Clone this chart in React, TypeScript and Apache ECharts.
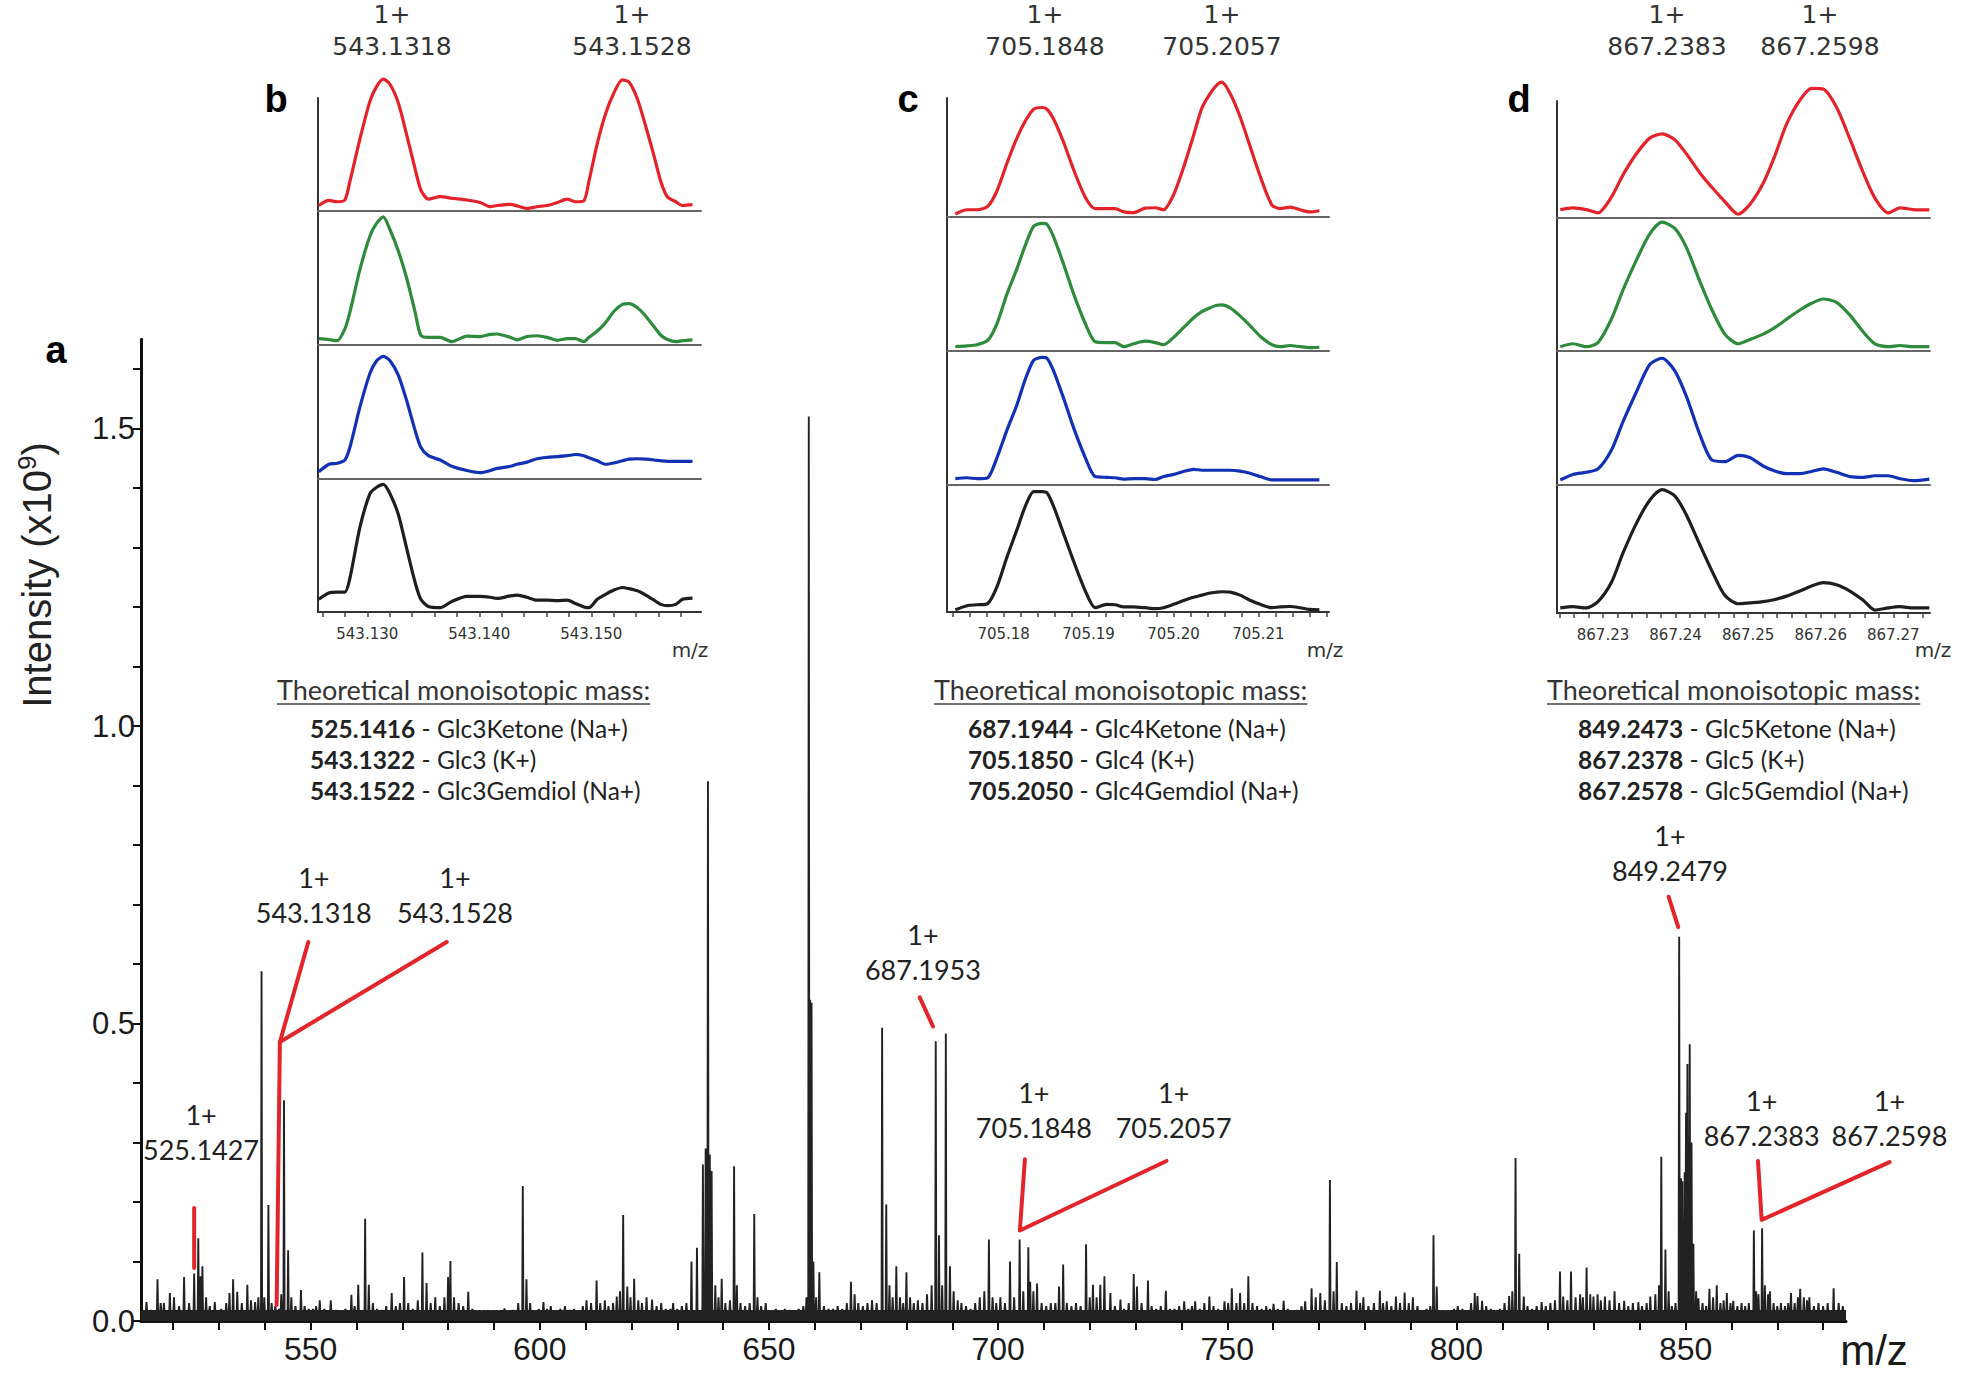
import React, { useEffect, useRef } from "react";
import * as echarts from "echarts";

// ---------------- main spectrum (m/z, intensity x10^9) ----------------
const peaks513to600: number[][] = [
  [514.2,0.032],[515.2,0.018],[516.6,0.070],[517.3,0.030],[518.0,0.030],[519.3,0.047],[520.2,0.040],[521.3,0.025],
  [522.4,0.074],[523.5,0.030],[524.6,0.080],[525.5,0.139],[526.0,0.075],[526.4,0.092],[527.2,0.040],[528.0,0.025],
  [529.1,0.032],[530.5,0.020],[531.6,0.030],[532.3,0.047],[533.1,0.070],[534.0,0.049],[535.0,0.030],[536.2,0.061],
  [537.0,0.035],[537.9,0.032],[538.6,0.040],[539.3,0.588],[539.9,0.040],[540.8,0.195],[541.5,0.030],[542.3,0.025],
  [543.1,0.020],[543.6,0.045],[544.2,0.371],[545.1,0.119],[545.8,0.040],[546.7,0.025],[547.9,0.052],[548.7,0.025],
  [549.6,0.020],[550.5,0.020],[551.2,0.025],[552.0,0.035],[553.0,0.020],[554.4,0.035],[555.5,0.018],[556.6,0.015],
  [557.6,0.020],[558.9,0.044],[559.6,0.025],[560.4,0.061],[561.9,0.172],[562.7,0.061],[563.6,0.030],[564.5,0.020],
  [565.5,0.018],[566.5,0.025],[567.7,0.047],[568.6,0.025],[569.5,0.030],[570.4,0.074],[571.3,0.030],[572.3,0.020],
  [573.4,0.035],[574.4,0.115],[575.3,0.064],[576.2,0.030],[577.2,0.040],[578.2,0.025],[579.2,0.040],[580.0,0.074],
  [580.5,0.101],[581.3,0.040],[582.3,0.030],[583.3,0.025],[584.4,0.049],[585.3,0.020],[586.3,0.012],[587.3,0.010],
  [588.3,0.015],[589.3,0.012],[590.0,0.016],[591.0,0.012],[592.3,0.021],[593.2,0.015],[594.2,0.018],[595.3,0.030],
  [596.3,0.227],[597.1,0.070],[597.9,0.030],[598.8,0.015],[599.8,0.020]
];
const peaks600to700: number[][] = [
  [600.8,0.032],[601.6,0.020],[602.4,0.025],[603.5,0.015],[604.5,0.020],[605.5,0.025],[606.5,0.018],[607.5,0.020],
  [608.5,0.015],[609.4,0.025],[610.2,0.035],[611.2,0.030],[612.4,0.068],[613.2,0.030],[614.2,0.035],[615.0,0.025],
  [616.0,0.030],[616.8,0.041],[617.5,0.050],[618.2,0.178],[619.1,0.058],[619.8,0.040],[620.6,0.071],[621.5,0.035],
  [622.3,0.030],[623.3,0.040],[624.5,0.036],[625.5,0.025],[626.5,0.030],[627.5,0.020],[628.5,0.020],[629.1,0.030],
  [630.0,0.020],[631.0,0.025],[632.0,0.030],[633.1,0.100],[634.3,0.123],[635.6,0.263],[636.2,0.290],[636.7,0.907],
  [637.1,0.280],[637.5,0.252],[638.3,0.060],[639.0,0.040],[639.7,0.071],[640.5,0.030],[641.5,0.035],[642.4,0.260],
  [643.0,0.060],[643.8,0.030],[644.8,0.025],[645.8,0.030],[646.8,0.180],[647.5,0.040],[648.3,0.025],[649.3,0.030],
  [650.5,0.015],[651.5,0.020],[652.5,0.015],[653.5,0.020],[654.5,0.018],[655.5,0.015],[656.5,0.020],[657.5,0.025],
  [658.2,0.040],[658.7,1.520],[659.0,0.540],[659.3,0.535],[659.7,0.100],[660.3,0.040],[661.0,0.082],[662.0,0.025],
  [663.0,0.020],[664.0,0.020],[665.0,0.025],[666.0,0.020],[667.0,0.030],[667.9,0.066],[668.7,0.045],[669.5,0.030],
  [670.5,0.025],[671.5,0.030],[672.5,0.035],[673.5,0.030],[674.7,0.493],[675.6,0.196],[676.3,0.060],[677.0,0.040],
  [677.8,0.092],[678.6,0.040],[679.3,0.030],[680.0,0.082],[680.8,0.040],[681.6,0.030],[682.5,0.035],[683.5,0.030],
  [684.5,0.045],[685.5,0.060],[686.4,0.470],[687.1,0.144],[687.8,0.060],[688.6,0.483],[689.5,0.092],[690.3,0.050],
  [691.2,0.035],[692.0,0.030],[693.0,0.025],[694.0,0.020],[695.0,0.030],[696.0,0.040],[697.0,0.050],[698.0,0.137],
  [698.8,0.040],[699.6,0.030]
];
const peaks700to800: number[][] = [
  [700.5,0.040],[701.5,0.030],[702.6,0.100],[703.5,0.040],[704.7,0.137],[705.5,0.050],[706.6,0.124],[707.0,0.066],
  [707.7,0.050],[708.5,0.063],[709.5,0.030],[710.5,0.025],[711.5,0.030],[712.5,0.030],[713.3,0.058],[714.2,0.095],
  [715.0,0.030],[716.0,0.025],[717.0,0.030],[718.0,0.025],[719.2,0.129],[720.0,0.040],[720.7,0.061],[721.5,0.040],
  [722.3,0.061],[723.2,0.075],[724.5,0.047],[725.5,0.025],[726.7,0.036],[727.5,0.020],[728.5,0.030],[729.6,0.079],
  [730.3,0.058],[731.3,0.030],[732.7,0.068],[733.5,0.025],[734.5,0.020],[735.5,0.025],[736.6,0.051],[737.5,0.020],
  [738.5,0.020],[739.5,0.025],[740.6,0.033],[741.5,0.020],[742.3,0.025],[743.0,0.033],[744.0,0.020],[745.0,0.030],
  [746.1,0.041],[747.0,0.025],[748.0,0.020],[749.4,0.033],[750.2,0.030],[751.0,0.055],[752.0,0.030],[752.8,0.047],
  [753.7,0.030],[754.6,0.075],[755.5,0.030],[756.5,0.025],[757.5,0.020],[758.5,0.025],[759.3,0.020],[760.1,0.029],
  [761.0,0.020],[762.3,0.034],[763.2,0.020],[764.2,0.015],[765.2,0.018],[766.2,0.025],[767.0,0.033],[768.4,0.055],
  [769.3,0.040],[770.3,0.047],[771.3,0.035],[772.4,0.237],[773.2,0.050],[773.9,0.099],[775.0,0.030],[776.0,0.025],
  [777.0,0.030],[778.2,0.051],[779.0,0.030],[779.7,0.040],[780.8,0.025],[782.0,0.030],[783.3,0.051],[784.0,0.030],
  [784.8,0.033],[785.8,0.025],[786.8,0.041],[787.7,0.030],[788.7,0.048],[789.6,0.030],[790.5,0.040],[791.5,0.025],
  [792.5,0.015],[793.5,0.020],[794.3,0.025],[795.0,0.144],[795.7,0.058],[796.6,0.015],[797.5,0.012],[798.5,0.015],
  [799.5,0.020]
];
const peaks800to885: number[][] = [
  [800.3,0.025],[801.3,0.020],[802.3,0.015],[803.2,0.030],[804.0,0.047],[804.6,0.042],[805.6,0.034],[806.5,0.025],
  [807.5,0.020],[808.5,0.015],[809.5,0.020],[810.5,0.030],[811.5,0.042],[812.2,0.050],[812.9,0.274],[813.7,0.113],
  [814.7,0.041],[815.5,0.025],[816.5,0.020],[817.5,0.025],[818.6,0.032],[819.5,0.025],[820.5,0.030],[821.5,0.035],
  [822.6,0.083],[823.3,0.041],[824.2,0.035],[825.0,0.083],[826.0,0.040],[827.0,0.045],[827.6,0.040],[828.4,0.090],
  [829.2,0.045],[829.9,0.041],[830.8,0.045],[831.5,0.035],[832.4,0.041],[833.4,0.035],[834.5,0.050],[835.5,0.030],
  [836.6,0.034],[837.5,0.025],[838.5,0.030],[839.7,0.032],[840.5,0.025],[841.5,0.030],[842.3,0.041],[843.4,0.045],
  [844.2,0.060],[844.7,0.276],[845.6,0.120],[846.3,0.050],[847.0,0.025],[847.8,0.030],[848.6,0.646],[849.0,0.240],
  [849.3,0.235],[849.8,0.250],[850.1,0.350],[850.4,0.432],[850.9,0.465],[851.3,0.300],[851.7,0.130],[852.3,0.050],
  [852.8,0.038],[853.7,0.030],[854.5,0.025],[855.2,0.054],[856.0,0.040],[856.8,0.060],[857.6,0.030],[858.3,0.035],
  [859.0,0.047],[859.8,0.030],[860.4,0.034],[861.3,0.025],[862.2,0.030],[863.0,0.025],[863.8,0.030],[864.9,0.152],
  [865.4,0.050],[865.9,0.045],[866.7,0.156],[867.3,0.060],[868.0,0.045],[868.4,0.050],[869.2,0.030],[870.0,0.025],
  [870.8,0.030],[871.7,0.025],[872.4,0.030],[873.0,0.047],[873.8,0.030],[874.5,0.040],[875.0,0.054],[875.8,0.040],
  [876.5,0.035],[877.0,0.040],[878.0,0.025],[879.0,0.030],[880.0,0.025],[881.0,0.030],[882.3,0.055],[883.4,0.030],
  [884.3,0.025]
];
const noiseFloor = 0.017;

const mainXTicks = [520,530,540,550,560,570,580,590,600,610,620,630,640,650,660,670,680,690,700,710,720,730,740,750,760,770,780,790,800,810,820,830,840,850,860,870,880];
const mainXLabels = [550,600,650,700,750,800,850];
const mainYTicks = [0,0.1,0.2,0.3,0.4,0.5,0.6,0.7,0.8,0.9,1.0,1.1,1.2,1.3,1.4,1.5,1.6];
const mainYLabels = [0,0.5,1.0,1.5];

// peak annotations on the main spectrum
const annoText = ["1+\n525.1427","1+\n543.1318","1+\n543.1528","1+\n687.1953","1+\n705.1848","1+\n705.2057","1+\n849.2479","1+\n867.2383","1+\n867.2598"];
const annoMz = [526.1, 550.7, 581.5, 683.6, 707.8, 738.3, 846.6, 866.6, 894.5];
const annoInt = [0.318, 0.716, 0.716, 0.620, 0.355, 0.355, 0.787, 0.342, 0.342];
const leader525 = [[524.6,0.089],[524.6,0.19]];
const leader543a = [[542.6,0.027],[543.3,0.469],[549.5,0.637]];
const leader543b = [[543.3,0.469],[579.7,0.637]];
const leader687 = [[682.9,0.544],[685.8,0.495]];
const leader705 = [[705.85,0.272],[704.75,0.152],[736.75,0.269]];
const leader849 = [[846.3,0.713],[848.4,0.662]];
const leader867 = [[865.8,0.269],[866.6,0.170],[894.5,0.267]];

// ---------------- inset b (543.13 region), relative intensity per trace ----------------
const insetBMz = [543.12567,543.12657,543.12731,543.12800,543.12845,543.12934,543.13024,543.13084,543.13143,543.13203,543.13278,543.13352,543.13427,543.13478,543.13546,543.13651,543.13755,543.13890,543.14009,543.14099,543.14158,543.14278,543.14337,543.14427,543.14516,543.14606,543.14696,543.14785,543.14860,543.14934,543.14979,543.15054,543.15128,543.15203,543.15278,543.15337,543.15412,543.15487,543.15561,543.15621,543.15681,543.15755,543.15815,543.15904];
const insetBRed = [4.1,7.9,6.9,8.2,22.1,53.6,82.0,93.0,98.4,94.6,80.4,56.8,31.5,15.8,8.8,10.7,9.5,8.2,6.3,3.2,4.1,5.0,3.8,1.9,3.2,4.1,6.3,8.8,6.9,7.6,22.1,50.5,72.6,88.3,97.8,96.2,83.6,63.1,41.0,22.1,10.4,6.9,4.1,4.7];
const insetBGreen = [4.7,4.1,3.2,12.0,24.6,56.2,81.4,90.9,95.6,86.0,70.0,49.8,24.6,7.3,5.7,5.7,2.5,6.6,6.3,7.9,8.2,5.7,3.8,6.3,6.9,5.7,3.5,4.7,4.7,2.5,5.7,10.4,16.7,25.2,30.3,30.9,27.8,21.5,13.6,7.3,4.1,2.5,3.2,3.8];
const insetBBlue = [5.4,11.0,11.7,14.2,23.7,53.6,78.9,88.3,91.5,88.3,77.3,58.4,36.3,23.7,17.4,14.2,9.5,6.3,4.7,6.3,7.9,9.5,11.0,12.6,15.1,16.1,16.7,17.4,18.3,17.4,15.8,13.6,11.0,12.0,13.6,14.8,15.1,14.8,14.2,13.6,13.2,13.2,13.2,13.2];
const insetBBlack = [9.5,14.2,14.8,14.8,25.2,63.1,88.3,93.1,95.3,88.3,72.6,47.3,22.1,9.5,4.1,3.2,7.9,11.7,11.7,11.0,10.1,12.0,12.6,11.0,8.8,8.8,8.5,8.8,6.3,3.8,3.2,9.5,13.2,16.4,18.3,17.4,15.8,12.6,8.8,5.7,4.7,5.7,9.5,10.4];
const insetBTicks = [543.126,543.128,543.130,543.132,543.134,543.136,543.138,543.140,543.142,543.144,543.146,543.148,543.150,543.152,543.154,543.156,543.158];
const insetBLabels = [543.13,543.14,543.15];

// ---------------- inset c (705.19 region) ----------------
const insetCMz = [705.17431,705.17569,705.17686,705.17812,705.17922,705.18039,705.18157,705.18255,705.18353,705.18451,705.18510,705.18588,705.18706,705.18824,705.18961,705.19078,705.19216,705.19314,705.19412,705.19529,705.19667,705.19784,705.19882,705.20000,705.20118,705.20235,705.20333,705.20431,705.20510,705.20569,705.20667,705.20784,705.20902,705.21020,705.21157,705.21255,705.21373,705.21490,705.21608,705.21718];
const insetCRed = [2.2,5.4,5.4,7.9,19.6,40.1,59.0,71.6,80.4,81.7,80.4,73.2,55.8,35.3,14.8,6.3,6.3,6.3,3.8,3.2,6.6,6.9,5.4,16.4,36.9,60.6,81.1,92.1,98.4,100.6,92.1,74.8,52.7,30.6,9.1,6.3,7.3,5.4,3.8,4.7];
const insetCGreen = [3.2,3.8,4.7,7.9,20.5,42.6,61.5,78.9,93.1,95.3,94.6,85.2,64.7,42.6,20.5,6.9,6.3,6.3,3.2,5.4,7.3,6.3,4.7,10.1,17.4,24.6,29.3,32.2,34.1,34.4,32.2,26.2,18.9,11.0,4.7,3.2,4.1,3.2,2.5,2.8];
const insetCBlue = [4.7,5.4,4.7,5.4,20.5,41.0,59.9,78.9,93.1,95.3,94.6,85.2,64.7,42.6,20.5,6.3,5.7,5.4,4.4,4.7,4.7,4.1,6.3,7.9,10.1,11.7,11.0,11.0,11.0,11.0,11.0,10.4,8.8,6.3,3.8,3.8,3.8,3.8,3.8,3.8];
const insetCBlack = [1.6,4.7,5.4,6.3,18.9,41.0,61.5,78.9,89.9,89.9,89.0,78.9,58.4,37.9,15.8,3.2,5.7,5.4,3.8,3.8,3.2,2.5,3.2,5.7,8.5,11.0,12.6,14.2,14.8,15.1,14.8,12.6,8.8,5.7,3.2,3.8,4.1,3.2,1.9,1.6];
const insetCTicks = [705.174,705.176,705.178,705.180,705.182,705.184,705.186,705.188,705.190,705.192,705.194,705.196,705.198,705.200,705.202,705.204,705.206,705.208,705.210,705.212,705.214,705.216,705.218];
const insetCLabels = [705.18,705.19,705.20,705.21];

// ---------------- inset d (867.25 region) ----------------
const insetDMz = [867.22411,867.22586,867.22770,867.22931,867.23115,867.23276,867.23460,867.23644,867.23814,867.23989,867.24149,867.24333,867.24494,867.24678,867.24862,867.25023,867.25207,867.25368,867.25529,867.25713,867.25874,867.26034,867.26218,867.26402,867.26586,867.26747,867.26931,867.27092,867.27276,867.27497];
const insetDRed = [6.3,7.6,6.3,3.8,15.5,32.2,47.9,59.6,62.8,58.4,47.9,33.8,23.3,12.3,2.8,10.1,25.9,46.4,70.0,88.0,96.8,96.2,82.6,59.0,33.8,14.8,3.8,7.6,6.3,6.0];
const insetDGreen = [3.2,5.4,3.2,6.3,23.7,45.7,67.8,87.4,96.2,91.5,77.3,52.1,31.5,12.6,5.4,8.5,12.6,17.4,23.7,30.6,35.6,38.8,36.3,26.8,14.2,5.4,3.2,4.1,3.2,3.2];
const insetDBlue = [3.8,7.9,9.5,12.0,25.9,47.3,69.4,89.9,94.6,85.2,66.2,37.9,18.9,17.4,22.1,20.5,14.2,10.4,8.5,8.5,10.1,12.0,9.5,6.3,5.7,6.9,6.9,4.7,3.2,4.4];
const insetDBlack = [3.8,4.7,3.8,8.5,22.7,44.8,66.9,84.2,92.1,87.4,73.2,51.1,32.2,13.2,6.9,7.6,8.5,10.1,12.6,16.4,20.2,22.7,21.1,16.4,9.5,2.2,3.8,4.7,3.8,3.8];
const insetDTicks = [867.224,867.226,867.228,867.230,867.232,867.234,867.236,867.238,867.240,867.242,867.244,867.246,867.248,867.250,867.252,867.254,867.256,867.258,867.260,867.262,867.264,867.266,867.268,867.270,867.272,867.274];
const insetDLabels = [867.23,867.24,867.25,867.26,867.27];

// inset headers and theoretical masses
const headersB = ["1+\n543.1318", "1+\n543.1528"];
const headersC = ["1+\n705.1848", "1+\n705.2057"];
const headersD = ["1+\n867.2383", "1+\n867.2598"];
const theoTitle = "Theoretical monoisotopic mass:";
const theoB = [["525.1416", " - Glc3Ketone (Na+)"], ["543.1322", " - Glc3 (K+)"], ["543.1522", " - Glc3Gemdiol (Na+)"]];
const theoC = [["687.1944", " - Glc4Ketone (Na+)"], ["705.1850", " - Glc4 (K+)"], ["705.2050", " - Glc4Gemdiol (Na+)"]];
const theoD = [["849.2473", " - Glc5Ketone (Na+)"], ["867.2378", " - Glc5 (K+)"], ["867.2578", " - Glc5Gemdiol (Na+)"]];

// ---------------- layout / style ----------------
const FONT_AX = "'Liberation Sans', Arial, sans-serif";
const FONT_ANNO = "Lato, 'Open Sans', sans-serif";
const FONT_INSET = "'DejaVu Sans', Verdana, sans-serif";
const RED = "#e2252b";
const TRACE_COLORS = ["#e3222a", "#2e8b3b", "#1331b5", "#1e1e1e"];
const X_MIN = 513, X_MAX = 885, Y_MAX = 1.65;
const MAIN = { left: 141, width: 1705, bottom: 1321, pxPerUnit: 595 };
const INSET_PX_PER_UNIT = 1.34;

const INSETS = [
  { left: 318, right: 701, axisTop: 98, seps: [211, 345, 479], bottom: 612, xMin: 543.1256, xMax: 543.1598,
    ticks: insetBTicks, labels: insetBLabels, digits: 3, mz: insetBMz, traces: [insetBRed, insetBGreen, insetBBlue, insetBBlack],
    letter: "b", letterX: 276, headers: headersB, headerX: [392, 632], mzLabelX: 690, theo: theoB, theoX: 277, theoLineX: 310 },
  { left: 947, right: 1329, axisTop: 98, seps: [217, 351, 485], bottom: 612, xMin: 705.17333, xMax: 705.21831,
    ticks: insetCTicks, labels: insetCLabels, digits: 2, mz: insetCMz, traces: [insetCRed, insetCGreen, insetCBlue, insetCBlack],
    letter: "c", letterX: 908, headers: headersC, headerX: [1045, 1222], mzLabelX: 1325, theo: theoC, theoX: 934, theoLineX: 968 },
  { left: 1557, right: 1930, axisTop: 101, seps: [218, 351, 485], bottom: 613, xMin: 867.22366, xMax: 867.27506,
    ticks: insetDTicks, labels: insetDLabels, digits: 2, mz: insetDMz, traces: [insetDRed, insetDGreen, insetDBlue, insetDBlack],
    letter: "d", letterX: 1519, headers: headersD, headerX: [1667, 1820], mzLabelX: 1933, theo: theoD, theoX: 1547, theoLineX: 1578 },
];

function textWidth(text: string, font: string): number {
  const ctx = document.createElement("canvas").getContext("2d");
  if (!ctx) return text.length * 12;
  ctx.font = font;
  return ctx.measureText(text).width;
}

function buildOption(): any {
  const grid: any[] = [];
  const xAxis: any[] = [];
  const yAxis: any[] = [];
  const series: any[] = [];
  const graphic: any[] = [];

  // ---- main spectrum ----
  const mainHeight = Y_MAX * MAIN.pxPerUnit;
  grid.push({ left: MAIN.left, top: MAIN.bottom - mainHeight, width: MAIN.width, height: mainHeight, containLabel: false, outerBoundsMode: "none" });
  xAxis.push({
    type: "value", gridIndex: 0, min: X_MIN, max: X_MAX,
    axisLine: { show: true, onZero: false, lineStyle: { color: "#111", width: 3 } },
    axisTick: { show: true, customValues: mainXTicks, length: 9, lineStyle: { color: "#111", width: 2 } },
    axisLabel: { show: true, customValues: mainXLabels, formatter: (v: number) => String(Math.round(v)), margin: 12, fontSize: 32, fontFamily: FONT_AX, color: "#1a1a1a" },
    splitLine: { show: false },
  });
  yAxis.push({
    type: "value", gridIndex: 0, min: 0, max: Y_MAX,
    axisLine: { show: true, onZero: false, lineStyle: { color: "#111", width: 3 } },
    axisTick: { show: true, customValues: mainYTicks, length: 8, lineStyle: { color: "#111", width: 2 } },
    axisLabel: { show: true, customValues: mainYLabels, formatter: (v: number) => v.toFixed(1), margin: 6, fontSize: 31, fontFamily: FONT_AX, color: "#1a1a1a" },
    splitLine: { show: false },
  });

  const allPeaks = [...peaks513to600, ...peaks600to700, ...peaks700to800, ...peaks800to885].sort((a, b) => a[0] - b[0]);
  const half = 0.12;
  const profile: number[][] = [[X_MIN, noiseFloor]];
  for (const [m, h] of allPeaks) {
    profile.push([m - half, noiseFloor], [m, h], [m + half, noiseFloor]);
  }
  profile.push([X_MAX, noiseFloor]);
  series.push({
    type: "line", xAxisIndex: 0, yAxisIndex: 0, data: profile, showSymbol: false, symbol: "none",
    silent: true, z: 2,
    lineStyle: { color: "#222", width: 1.9 }, areaStyle: { color: "#222", opacity: 1 },
  });

  const leaders = [leader525, leader543a, leader543b, leader687, leader705, leader849, leader867];
  series.push({
    type: "custom", xAxisIndex: 0, yAxisIndex: 0, silent: true, z: 5, clip: false,
    data: leaders.map((l, k) => [l[0][0], l[0][1], k]),
    renderItem: (_p: any, api: any) => {
      const k = api.value(2);
      const pts = leaders[k].map((d) => api.coord(d));
      return { type: "polyline", shape: { points: pts }, style: { stroke: RED, lineWidth: 4, fill: null, lineCap: "round", lineJoin: "round" } };
    },
  });
  series.push({
    type: "custom", xAxisIndex: 0, yAxisIndex: 0, silent: true, z: 6, clip: false,
    data: annoText.map((_, i) => [annoMz[i], annoInt[i], i]),
    renderItem: (_p: any, api: any) => {
      const pt = api.coord([api.value(0), api.value(1)]);
      const i = api.value(2);
      return {
        type: "text", x: pt[0], y: pt[1],
        style: { text: annoText[i], fill: "#222", fontSize: 27, fontFamily: FONT_ANNO, align: "center", verticalAlign: "middle", lineHeight: 35 },
      };
    },
  });

  // ---- insets ----
  INSETS.forEach((ins) => {
    for (let p = 0; p < 4; p++) {
      const top = p === 0 ? ins.axisTop : ins.seps[p - 1];
      const bottom = p < 3 ? ins.seps[p] : ins.bottom;
      const h = bottom - top;
      const gi = grid.length;
      grid.push({ left: ins.left, top, width: ins.right - ins.left, height: h, containLabel: false, outerBoundsMode: "none" });
      const isBottom = p === 3;
      xAxis.push({
        type: "value", gridIndex: gi, min: ins.xMin, max: ins.xMax,
        axisLine: { show: true, onZero: false, lineStyle: { color: isBottom ? "#333" : "#666", width: 2 } },
        axisTick: { show: isBottom, customValues: ins.ticks, length: 5, lineStyle: { color: "#444", width: 1.5 } },
        axisLabel: { show: isBottom, customValues: ins.labels, formatter: (v: number) => v.toFixed(ins.digits), margin: 14, fontSize: 15, fontFamily: FONT_INSET, color: "#333" },
        splitLine: { show: false },
      });
      yAxis.push({
        type: "value", gridIndex: gi, min: 0, max: h / INSET_PX_PER_UNIT,
        axisLine: { show: true, onZero: false, lineStyle: { color: "#333", width: 2 } },
        axisTick: { show: false }, axisLabel: { show: false }, splitLine: { show: false },
      });
      const tr = ins.traces[p];
      series.push({
        type: "line", xAxisIndex: gi, yAxisIndex: gi, data: ins.mz.map((m, j) => [m, tr[j]]),
        showSymbol: false, symbol: "none", smooth: 0.25, clip: false, silent: true, z: 3,
        lineStyle: { color: TRACE_COLORS[p], width: 3.2 },
      });
    }
    graphic.push({ type: "text", x: ins.letterX, y: 99, style: { text: ins.letter, fill: "#000", fontSize: 38, fontWeight: "bold", fontFamily: FONT_AX, align: "center", verticalAlign: "middle" } });
    ins.headers.forEach((t, k) => {
      graphic.push({ type: "text", x: ins.headerX[k], y: 30, style: { text: t, fill: "#333", fontSize: 25, fontFamily: FONT_INSET, align: "center", verticalAlign: "middle", lineHeight: 32 } });
    });
    graphic.push({ type: "text", x: ins.mzLabelX, y: 650, style: { text: "m/z", fill: "#333", fontSize: 20, fontFamily: FONT_INSET, align: "center", verticalAlign: "middle" } });
    const tw = textWidth(theoTitle, "27px Lato");
    graphic.push({ type: "text", x: ins.theoX, y: 689, style: { text: theoTitle, fill: "#333", fontSize: 27, fontFamily: FONT_ANNO, align: "left", verticalAlign: "middle" } });
    graphic.push({ type: "line", shape: { x1: ins.theoX, y1: 704, x2: ins.theoX + tw, y2: 704 }, style: { stroke: "#444", lineWidth: 1.6 } });
    ins.theo.forEach((ln, k) => {
      graphic.push({
        type: "text", x: ins.theoLineX, y: 728 + k * 31,
        style: {
          text: `{b|${ln[0]}}{n|${ln[1]}}`, align: "left", verticalAlign: "middle",
          rich: {
            b: { fontSize: 24.5, fontWeight: "bold", fontFamily: FONT_ANNO, fill: "#222" },
            n: { fontSize: 24.5, fontFamily: FONT_ANNO, fill: "#222" },
          },
        },
      });
    });
  });

  graphic.push({ type: "text", x: 56, y: 350, style: { text: "a", fill: "#000", fontSize: 38, fontWeight: "bold", fontFamily: FONT_AX, align: "center", verticalAlign: "middle" } });
  graphic.push({ type: "text", x: 1874, y: 1350, style: { text: "m/z", fill: "#1a1a1a", fontSize: 42, fontFamily: FONT_AX, align: "center", verticalAlign: "middle" } });
  graphic.push({
    type: "text", x: 37, y: 575, rotation: Math.PI / 2,
    style: {
      text: "{n|Intensity (x10}{s|9}{n|)}", align: "center", verticalAlign: "middle",
      rich: {
        n: { fontSize: 40, fontFamily: FONT_AX, fill: "#222", lineHeight: 46, verticalAlign: "middle" },
        s: { fontSize: 26, fontFamily: FONT_AX, fill: "#222", lineHeight: 46, verticalAlign: "top", padding: [0, 0, 14, 0] },
      },
    },
  });

  return { animation: false, backgroundColor: "#fff", grid, xAxis, yAxis, series, graphic };
}

export default function App() {
  const ref = useRef<HTMLDivElement>(null);
  useEffect(() => {
    if (!ref.current) return;
    const chart = echarts.init(ref.current, undefined, { renderer: "svg" });
    chart.setOption(buildOption());
    return () => chart.dispose();
  }, []);
  return <div ref={ref} style={{ position: "fixed", left: 0, top: 0, width: 1961, height: 1394, background: "#fff" }} />;
}
